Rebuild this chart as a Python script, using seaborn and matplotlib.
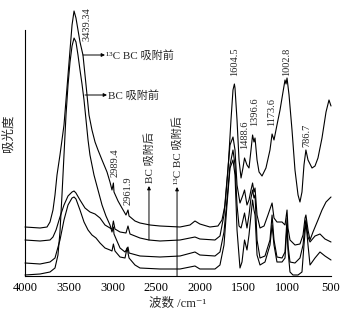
import numpy as np
import pandas as pd
import matplotlib
matplotlib.use("Agg")
import matplotlib.pyplot as plt
import seaborn as sns

# ---------------- data ----------------
wn_13c_before = [4000, 3828, 3748, 3714, 3680, 3657, 3634, 3600, 3577, 3554, 3531, 3508, 3485, 3462, 3439,
                 3417, 3394, 3371, 3337, 3302, 3268, 3234, 3199, 3165, 3119, 3062, 3028, 3005, 2989, 2982,
                 2936, 2891, 2845, 2822, 2810, 2742, 2685, 2570, 2456, 2227, 2113, 2056, 2000, 1885, 1793,
                 1747, 1712, 1678, 1644, 1621, 1605, 1598, 1575, 1552, 1529, 1507, 1489, 1461, 1438, 1415,
                 1397, 1381, 1369, 1346, 1323, 1289, 1244, 1198, 1174, 1152, 1118, 1083, 1049, 1026, 1014,
                 1003, 980, 946, 912, 877, 855, 832, 809, 787, 763, 717, 683, 649, 603, 557, 523, 500]
ab_13c_before = [49, 48, 49, 54, 66, 81, 101, 121, 136, 151, 176, 201, 226, 251, 265,
                 258, 246, 234, 221, 191, 161, 146, 134, 126, 116, 104, 94, 86, 93, 84,
                 75, 68, 61, 66, 60, 55, 53, 51, 50, 49, 51, 55, 52, 49, 50,
                 56, 71, 106, 156, 186, 192, 188, 156, 116, 98, 108, 118, 111, 108, 126,
                 141, 134, 138, 116, 104, 100, 108, 126, 142, 136, 151, 166, 184, 196, 192,
                 198, 181, 146, 106, 81, 74, 84, 111, 126, 116, 108, 110, 118, 138, 164, 176, 170]

wn_bc_before = [4000, 3828, 3714, 3657, 3623, 3600, 3577, 3554, 3531, 3508, 3485, 3462, 3439, 3417, 3394,
                3371, 3348, 3325, 3302, 3279, 3257, 3211, 3165, 3119, 3074, 3028, 3005, 2989, 2982, 2948,
                2913, 2856, 2822, 2810, 2685, 2456, 2227, 2056, 2000, 1827, 1770, 1724, 1690, 1655, 1621,
                1598, 1575, 1552, 1529, 1507, 1489, 1461, 1438, 1415, 1397, 1381, 1369, 1346, 1312, 1255,
                1198, 1174, 1152, 1118, 1060, 1026, 1003, 992, 969, 912, 855, 820, 797, 787, 763,
                740, 683, 626, 569, 500]
ab_bc_before = [1, 2, 4, 8, 21, 44, 81, 121, 161, 191, 214, 230, 238, 234, 221,
                206, 192, 176, 156, 136, 121, 101, 86, 71, 60, 51, 44, 49, 42, 35,
                28, 24, 29, 23, 20, 19, 20, 24, 21, 20, 24, 44, 76, 111, 126,
                111, 71, 50, 48, 56, 63, 48, 61, 78, 86, 78, 81, 36, 18, 20,
                36, 61, 36, 19, 18, 24, 58, 31, 14, 13, 18, 31, 51, 56, 39,
                34, 40, 42, 37, 34]

wn_bc_after = [4000, 3828, 3714, 3680, 3645, 3600, 3554, 3508, 3462, 3439, 3417, 3371, 3314, 3257, 3199,
               3142, 3085, 3028, 3005, 2989, 2971, 2913, 2845, 2822, 2799, 2685, 2582, 2456, 2227, 2056,
               2000, 1827, 1770, 1724, 1690, 1655, 1621, 1598, 1575, 1541, 1507, 1489, 1461, 1438, 1415,
               1397, 1381, 1369, 1346, 1312, 1266, 1221, 1174, 1152, 1118, 1060, 1026, 1003, 992, 969,
               912, 855, 820, 797, 787, 763, 740, 706, 649, 603, 557, 500]
ab_bc_after = [36, 35, 36, 39, 46, 59, 71, 80, 84, 85, 83, 76, 68, 64, 62,
               58, 51, 48, 47, 55, 47, 44, 43, 50, 42, 38, 36, 35, 36, 39,
               37, 36, 40, 61, 96, 131, 139, 126, 91, 73, 81, 86, 71, 76, 86,
               93, 84, 88, 61, 48, 50, 61, 73, 58, 54, 54, 51, 66, 48, 36,
               31, 32, 41, 58, 61, 46, 36, 44, 56, 66, 74, 79]

wn_13c_after = [4000, 3828, 3714, 3657, 3600, 3554, 3508, 3462, 3439, 3417, 3371, 3325, 3279, 3234, 3188,
                3142, 3085, 3028, 3005, 2989, 2971, 2913, 2856, 2833, 2810, 2742, 2685, 2456, 2227, 2056,
                2000, 1827, 1770, 1724, 1690, 1655, 1621, 1598, 1575, 1541, 1518, 1489, 1461, 1438, 1415,
                1397, 1381, 1369, 1346, 1312, 1255, 1198, 1174, 1152, 1118, 1060, 1026, 1003, 992, 969,
                935, 877, 832, 809, 787, 763, 740, 683, 626, 569, 500]
ab_13c_after = [13, 12, 14, 18, 36, 56, 71, 78, 79, 77, 66, 54, 46, 41, 38,
                33, 28, 26, 25, 32, 25, 19, 18, 28, 18, 11, 8, 7, 7, 10,
                7, 7, 11, 31, 71, 108, 116, 101, 46, 8, 14, 36, 26, 41, 61,
                76, 66, 61, 21, 11, 14, 31, 51, 31, 14, 14, 18, 51, 26, 4,
                1, 1, 4, 31, 54, 31, 11, 18, 24, 20, 16]

curve_names = ["13C BC 吸附前", "BC 吸附前", "BC 吸附后", "13C BC 吸附后"]
tick_values = [4000, 3500, 3000, 2500, 2000, 1500, 1000, 500]
tick_labels = ["4000", "3500", "3000", "2500", "2000", "1500", "1000", "500"]

peak_labels = ["3439.34", "2989.4", "2961.9", "1604.5", "1488.6", "1396.6", "1173.6", "1002.8", "786.7"]
peak_label_x = [3291, 2971, 2822, 1598, 1489, 1369, 1174, 1003, 775]
peak_label_y = [252, 113, 85, 214, 141, 164, 164, 214, 141]

# ---------------- build long table ----------------
frames = []
for name, w, a in zip(curve_names,
                      [wn_13c_before, wn_bc_before, wn_bc_after, wn_13c_after],
                      [ab_13c_before, ab_bc_before, ab_bc_after, ab_13c_after]):
    frames.append(pd.DataFrame({"wavenumber": w, "absorbance": a, "curve": name}))
df = pd.concat(frames, ignore_index=True)

sns.set_style("white")
plt.rcParams["font.family"] = ["Liberation Serif", "Noto Sans CJK SC", "DejaVu Sans"]
plt.rcParams["axes.unicode_minus"] = False

fig = plt.figure(figsize=(3.53, 3.24), dpi=100)
ax = fig.add_axes([25 / 353, 48 / 324, 306 / 353, 246 / 324])

sns.lineplot(data=df, x="wavenumber", y="absorbance", units="curve", estimator=None,
             sort=False, color="black", lw=0.8, ax=ax, legend=False)
for ln in ax.lines:
    ln.set_clip_on(False)

ax.set_xlim(4000, 500)
ax.set_ylim(0, 246)
ax.set_yticks([])
ax.set_xticks(tick_values)
ax.set_xticklabels(tick_labels)
ax.tick_params(axis="x", direction="in", length=3, width=0.8, labelsize=9, pad=4, colors="black")
for s in ["top", "right"]:
    ax.spines[s].set_visible(False)
for s in ["left", "bottom"]:
    ax.spines[s].set_color("black")
    ax.spines[s].set_linewidth(0.8)

ax.set_xlabel("波数 /cm⁻¹", fontsize=9, labelpad=3)
ax.set_ylabel("吸光度", fontsize=9)
ax.yaxis.set_label_coords(-0.033, 0.58)

# peak labels
for t, x, y in zip(peak_labels, peak_label_x, peak_label_y):
    ax.text(x, y, t, rotation=90, ha="center", va="center", fontsize=7.5, clip_on=False)

arrow_kw = dict(arrowstyle="-|>", lw=0.7, color="black", mutation_scale=5, shrinkA=0, shrinkB=0)
# horizontal arrows for "before" curves
ax.annotate("", xy=(3085, 221), xytext=(3337, 221), arrowprops=arrow_kw, annotation_clip=False)
ax.text(3070, 221, "¹³C BC 吸附前", ha="left", va="center", fontsize=8, clip_on=False)
ax.annotate("", xy=(3062, 181), xytext=(3314, 181), arrowprops=arrow_kw, annotation_clip=False)
ax.text(3045, 181, "BC 吸附前", ha="left", va="center", fontsize=8, clip_on=False)
# vertical arrows for "after" curves
ax.annotate("", xy=(2582, 90), xytext=(2582, 36), arrowprops=arrow_kw)
ax.text(2582, 93, "BC 吸附后", rotation=90, ha="center", va="bottom", fontsize=8)
ax.annotate("", xy=(2261, 89), xytext=(2261, 0), arrowprops=arrow_kw)
ax.text(2261, 92, "¹³C BC 吸附后", rotation=90, ha="center", va="bottom", fontsize=8)

fig.savefig("out.png", dpi=100)
